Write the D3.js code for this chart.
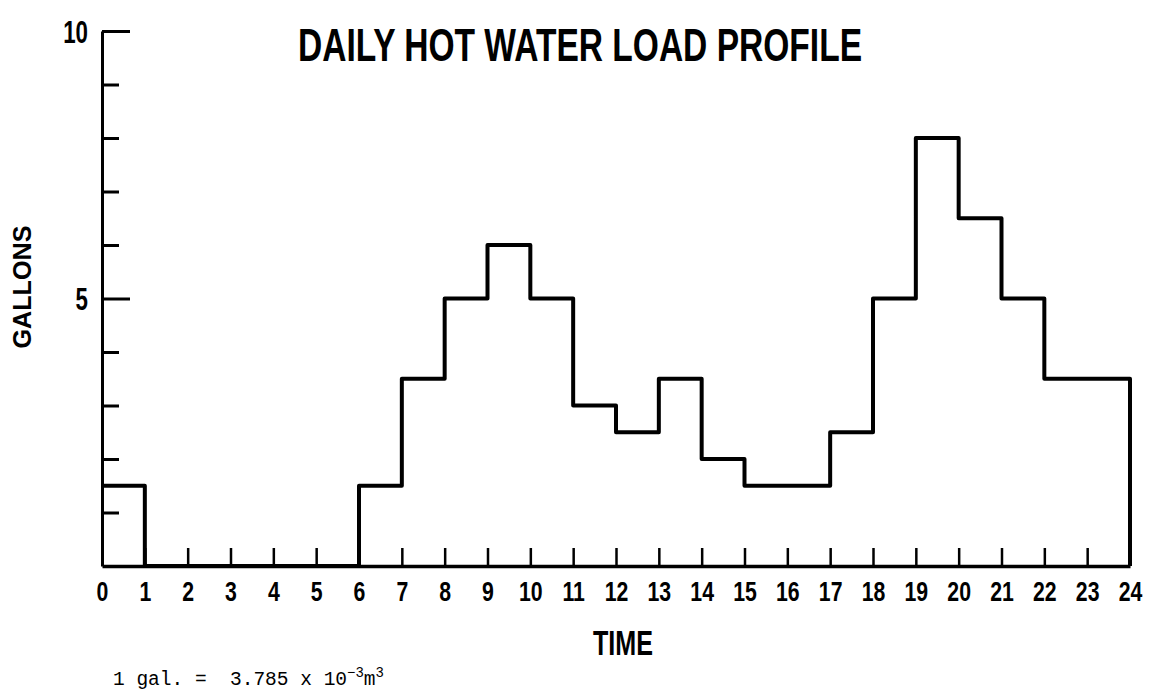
<!DOCTYPE html>
<html>
<head>
<meta charset="utf-8">
<script src="https://cdn.jsdelivr.net/npm/d3@7"></script>
<style>
  html, body { margin: 0; padding: 0; background: #fff; }
  svg { display: block; }
</style>
</head>
<body>
<svg id="chart" width="1153" height="692"></svg>
<script>
// ---- data ----
const hours = [0,1,2,3,4,5,6,7,8,9,10,11,12,13,14,15,16,17,18,19,20,21,22,23];
const gallons = [1.5,0,0,0,0,0,1.5,3.5,5,6,5,3,2.5,3.5,2,1.5,1.5,2.5,5,8,6.5,5,3.5,3.5];
const xTicks = [0,1,2,3,4,5,6,7,8,9,10,11,12,13,14,15,16,17,18,19,20,21,22,23,24];
const yMinorTicks = [1,2,3,4,6,7,8,9];
const yMajorTicks = [5,10];
const title = "DAILY HOT WATER LOAD PROFILE";
const xTitle = "TIME";
const yTitle = "GALLONS";

const svg = d3.select("#chart");
const boldFont = "'Liberation Sans', Arial, sans-serif";

const x = d3.scaleLinear().domain([0, 24]).range([102, 1130]);
const y = d3.scaleLinear().domain([0, 10]).range([566, 31]);

// ---- y axis (minor ticks) ----
const yMinor = svg.append("g")
  .attr("transform", `translate(${x(0)},0)`)
  .call(d3.axisLeft(y).tickValues(yMinorTicks).tickSizeInner(-17).tickSizeOuter(0).tickFormat(""));
yMinor.select(".domain").attr("stroke", "#000").attr("stroke-width", 3);
yMinor.selectAll(".tick line").attr("stroke", "#000").attr("stroke-width", 3);

// ---- y axis (major ticks with labels) ----
const yMajor = svg.append("g")
  .attr("transform", `translate(${x(0)},0)`)
  .call(d3.axisLeft(y).tickValues(yMajorTicks).tickSizeInner(-28).tickSizeOuter(0).tickPadding(14));
yMajor.select(".domain").remove();
yMajor.selectAll(".tick line").attr("stroke", "#000").attr("stroke-width", 3);
yMajor.selectAll(".tick text")
  .attr("font-family", boldFont).attr("font-weight", "bold")
  .attr("font-size", 31).attr("fill", "#000")
  .attr("transform", "scale(0.72,1)")
  .attr("x", -14 / 0.72)
  .attr("dy", "0.36em");

// ---- x axis ----
const xAxis = svg.append("g")
  .attr("transform", `translate(0,${y(0)})`)
  .call(d3.axisBottom(x).tickValues(xTicks).tickSizeInner(-18).tickSizeOuter(0).tickPadding(15).tickFormat(d3.format("d")));
xAxis.select(".domain").attr("stroke", "#000").attr("stroke-width", 3.5);
xAxis.selectAll(".tick line").attr("stroke", "#000").attr("stroke-width", 2.5);
xAxis.selectAll(".tick text")
  .attr("font-family", boldFont).attr("font-weight", "bold")
  .attr("font-size", 28).attr("fill", "#000")
  .attr("transform", "scale(0.76,1)");

// ---- step profile ----
const pts = hours.map((h, i) => [h, gallons[i]]);
pts.push([24, gallons[gallons.length - 1]]);
pts.push([24, 0]);
const line = d3.line()
  .x(d => x(d[0]))
  .y(d => y(d[1]))
  .curve(d3.curveStepAfter);
svg.append("path")
  .datum(pts)
  .attr("d", line)
  .attr("fill", "none")
  .attr("stroke", "#000")
  .attr("stroke-width", 4)
  .attr("stroke-linejoin", "round");

// ---- titles ----
svg.append("text")
  .attr("x", 580).attr("y", 61)
  .attr("text-anchor", "middle")
  .attr("font-family", boldFont).attr("font-weight", "bold")
  .attr("font-size", 47)
  .attr("textLength", 564).attr("lengthAdjust", "spacingAndGlyphs")
  .attr("fill", "#000")
  .text(title);

svg.append("text")
  .attr("transform", "translate(31,287) rotate(-90)")
  .attr("text-anchor", "middle")
  .attr("font-family", boldFont).attr("font-weight", "bold")
  .attr("font-size", 26)
  .attr("textLength", 123).attr("lengthAdjust", "spacingAndGlyphs")
  .attr("fill", "#000")
  .text(yTitle);

svg.append("text")
  .attr("x", 623).attr("y", 655)
  .attr("text-anchor", "middle")
  .attr("font-family", boldFont).attr("font-weight", "bold")
  .attr("font-size", 35)
  .attr("textLength", 60).attr("lengthAdjust", "spacingAndGlyphs")
  .attr("fill", "#000")
  .text(xTitle);

// ---- footnote ----
const foot = svg.append("text")
  .attr("x", 113).attr("y", 685)
  .attr("font-family", "'Liberation Mono', 'Courier New', monospace")
  .attr("font-size", 19.5)
  .attr("fill", "#000")
  .attr("xml:space", "preserve")
  .style("white-space", "pre");
foot.append("tspan").text("1 gal. =  3.785 x 10");
foot.append("tspan").attr("dy", -8).attr("font-size", 14).text("\u22123");
foot.append("tspan").attr("dy", 8).text("m");
foot.append("tspan").attr("dy", -8).attr("font-size", 14).text("3");
</script>
</body>
</html>
